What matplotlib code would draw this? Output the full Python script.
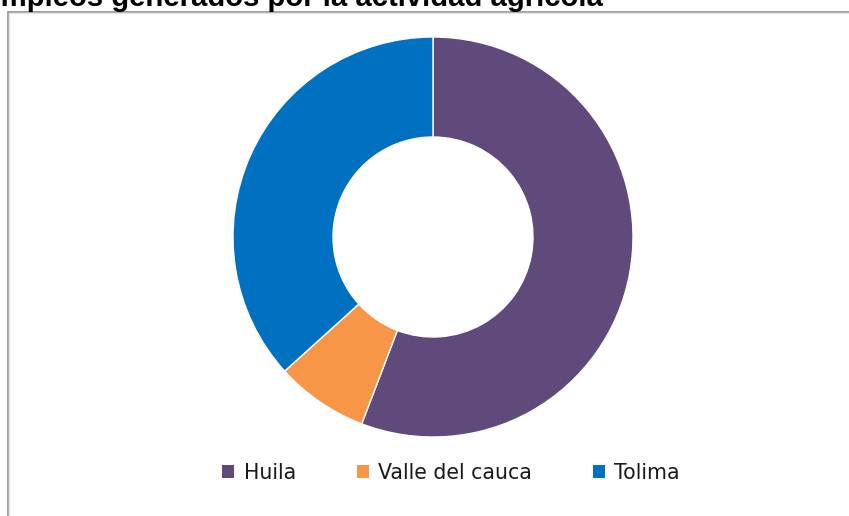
import matplotlib
matplotlib.use("Agg")
import matplotlib.pyplot as plt
from matplotlib.patches import Rectangle

title = "Empleos generados por la actividad agrícola"
categories = ["Huila", "Valle del cauca", "Tolima"]
values = [55.8, 7.5, 36.7]
colors = ["#604A7B", "#F79646", "#0070C0"]

W, H = 849, 516
fig = plt.figure(figsize=(W / 100, H / 100), dpi=100)
fig.patch.set_facecolor("white")

# chart frame (extends past right/bottom edges)
fig.patches.append(Rectangle((7.5 / W, -0.05), 1.0, 1 - 11.5 / H + 0.05,
                             transform=fig.transFigure, fill=False,
                             edgecolor="#9a9a9a", linewidth=1.3))
fig.patches.append(Rectangle((9 / W, -0.05), 1.0, 1 - 13 / H + 0.05,
                             transform=fig.transFigure, fill=False,
                             edgecolor="#e8e8e8", linewidth=1.0))

# title (cut off at top of the image)
fig.text(603 / W, 1 - 6 / H, title, ha="right", va="baseline",
         fontsize=21.1, fontweight="bold", family="Liberation Sans",
         color="black")

ax = fig.add_axes([233 / W, (H - 437) / H, 400 / W, 400 / H])
wedges, _ = ax.pie(values, startangle=90, counterclock=False, colors=colors,
                   radius=1.0,
                   wedgeprops=dict(width=0.5, edgecolor="white", linewidth=1.0))
ax.set_xlim(-1, 1)
ax.set_ylim(-1, 1)
ax.set_aspect("equal")
ax.axis("off")

leg = fig.legend(wedges, categories, ncol=3, loc="center",
                 bbox_to_anchor=(451 / W, 1 - 473 / H),
                 frameon=False, fontsize=14.8,
                 handlelength=0.6, handleheight=0.6, handletextpad=0.45,
                 columnspacing=2.95, borderpad=0)
for t in leg.get_texts():
    t.set_color("#1a1a1a")
for h in leg.legend_handles:
    h.set_edgecolor("none")

fig.savefig("out.png", dpi=100)
